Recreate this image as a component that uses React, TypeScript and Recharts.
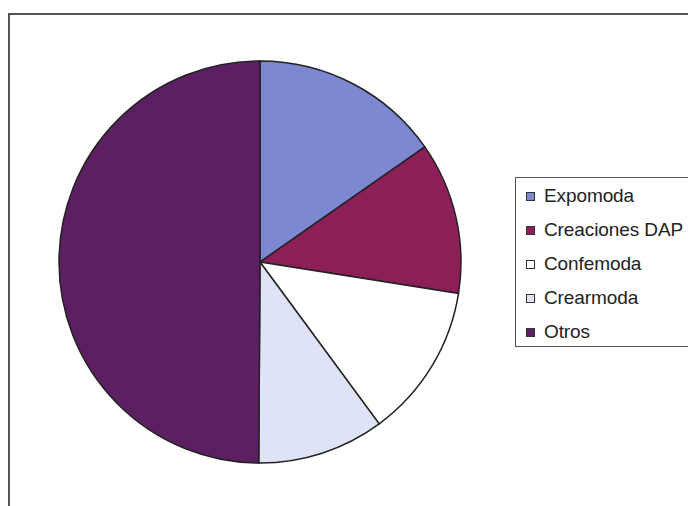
import { PieChart, Pie, Cell, Legend } from 'recharts'

const categories = ['Expomoda', 'Creaciones DAP', 'Confemoda', 'Crearmoda', 'Otros']
const shares = [15.3, 12.2, 12.4, 10.2, 49.9]
const colors = ['#7d88d2', '#8c1f58', '#ffffff', '#dfe3f7', '#5b1f62']

const data = categories.map((name, i) => ({ name, value: shares[i] }))

function LegendBox() {
  return (
    <div
      style={{
        position: 'absolute',
        left: 515,
        top: 177,
        width: 190,
        height: 170,
        border: '1px solid #555',
        background: '#fff',
        boxSizing: 'border-box',
        paddingTop: 1,
      }}
    >
      {categories.map((name, i) => (
        <div key={name} style={{ display: 'flex', alignItems: 'center', height: 34 }}>
          <span
            style={{
              display: 'inline-block',
              width: 7,
              height: 7,
              marginLeft: 10,
              marginRight: 9,
              background: colors[i],
              border: '1px solid #333',
            }}
          />
          <span style={{ fontFamily: '"Liberation Sans", Arial, sans-serif', fontSize: 19, color: '#222', letterSpacing: -0.1, whiteSpace: 'nowrap' }}>
            {name}
          </span>
        </div>
      ))}
    </div>
  )
}

export default function App() {
  return (
    <div style={{ position: 'fixed', left: 0, top: 0, width: 688, height: 506, background: '#fff', overflow: 'hidden' }}>
      <div
        style={{
          position: 'absolute',
          left: 8,
          top: 13,
          width: 700,
          height: 500,
          borderLeft: '2px solid #555',
          borderTop: '2px solid #555',
        }}
      />
      <PieChart
        width={688}
        height={506}
        margin={{ top: 0, right: 0, bottom: 0, left: 0 }}
        style={{ position: 'absolute', left: 0, top: 0 }}
      >
        <Pie
          data={data}
          dataKey="value"
          nameKey="name"
          cx={260}
          cy={262}
          outerRadius={201}
          startAngle={90}
          endAngle={-270}
          stroke="#222"
          strokeWidth={1.5}
          isAnimationActive={false}
        >
          {data.map((d, i) => (
            <Cell key={d.name} fill={colors[i]} />
          ))}
        </Pie>
        <Legend content={() => null} />
      </PieChart>
      <LegendBox />
    </div>
  )
}
